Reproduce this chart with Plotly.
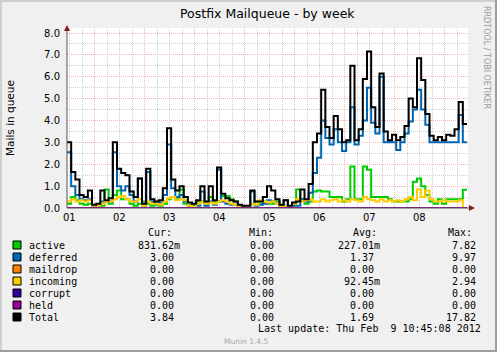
import plotly.graph_objects as go
from datetime import datetime, timedelta

# ---------------- data ----------------
start = datetime(2012, 2, 1, 10, 45)
step_hours = 2
day_labels = ["01", "02", "03", "04", "05", "06", "07", "08"]
day_noons = [datetime(2012, 2, d, 12, 0) for d in range(1, 9)]

active = [0.2, 0.5, 0.35, 0.2, 0.15, 0.2, 0.05, 0.05, 0.1, 0.85, 0.2, 0.6,
          0.8, 0.4, 0.4, 0.2, 0.1, 0.2, 0.3, 0.2, 0.1, 0.15, 0.1, 0.2,
          0.4, 0.5, 0.4, 0.85, 0.2, 0.15, 0.1, 0.3, 0.3, 0.2, 0.5, 0.3,
          0.3, 0.55, 0.55, 0.4, 0.3, 0.1, 0.05, 0.05, 0.2, 0.3, 0.2, 0.3,
          0.2, 0.2, 0.3, 0.1, 0.1, 0.05, 0.2, 0.85, 0.4, 0.2, 0.3, 0.75,
          0.8, 0.75, 0.75, 0.5, 0.5, 0.5, 0.3, 0.4, 1.9, 0.4, 0.4, 1.9,
          1.75, 0.5, 0.5, 0.5, 0.5, 0.4, 0.3, 0.3, 0.3, 0.3, 0.4, 1.2,
          1.35, 1.0, 0.6, 0.3, 0.2, 0.4, 0.2, 0.4, 0.4, 0.4, 0.4, 0.83]
deferred = [2.55, 1.0, 0.6, 0.4, 0.35, 0.4, 0.05, 0.05, 0.3, 0.3, 0.3, 2.55,
            1.0, 0.8, 1.0, 0.6, 0.3, 1.35, 0.1, 1.65, 0.3, 0.2, 0.25, 0.6,
            2.9, 0.9, 0.5, 0.6, 0.3, 0.1, 0.05, 0.1, 0.75, 0.1, 0.3, 0.15,
            1.75, 0.3, 0.2, 0.15, 0.15, 0.05, 0.05, 0.05, 0.75, 0.1, 0.15, 0.2,
            0.35, 0.3, 0.2, 0.05, 0.35, 0.05, 0.1, 0.1, 0.4, 0.3, 0.7, 1.6,
            2.3, 4.0, 3.2, 2.9, 3.6, 3.0, 2.6, 3.0, 4.6, 2.9, 3.3, 4.0,
            5.5, 3.9, 3.4, 6.0, 3.0, 3.0, 3.0, 2.65, 3.0, 3.4, 3.95, 4.5,
            5.4, 4.5, 3.8, 3.0, 3.0, 3.0, 3.0, 3.0, 3.0, 3.0, 4.25, 3.0]
maildrop = [0.0] * 96
incoming = [0.3, 0.4, 0.3, 0.35, 0.3, 0.35, 0.1, 0.1, 0.2, 0.3, 0.3, 0.4,
            0.5, 0.55, 0.4, 0.3, 0.3, 0.4, 0.1, 0.3, 0.2, 0.2, 0.15, 0.3,
            0.45, 0.5, 0.35, 0.4, 0.35, 0.1, 0.05, 0.2, 0.3, 0.2, 0.25, 0.2,
            0.3, 0.35, 0.3, 0.2, 0.15, 0.05, 0.0, 0.05, 0.2, 0.15, 0.35, 0.3,
            0.25, 0.3, 0.2, 0.05, 0.1, 0.05, 0.2, 0.4, 0.3, 0.35, 0.4, 0.3,
            0.3, 0.4, 0.3, 0.35, 0.4, 0.3, 0.35, 0.3, 0.4, 0.35, 0.3, 0.5,
            0.4, 0.35, 0.3, 0.4, 0.3, 0.35, 0.3, 0.35, 0.3, 0.4, 0.5, 0.35,
            0.85, 0.5, 0.8, 0.4, 0.3, 0.3, 0.35, 0.3, 0.3, 0.3, 0.35, 0.0]
corrupt = [0.0] * 96
held = [0.0] * 96
total = [3.0, 1.65, 1.3, 0.6, 0.5, 0.8, 0.15, 0.2, 0.8, 0.35, 0.45, 3.0,
         1.8, 1.6, 1.5, 0.75, 0.5, 1.35, 0.2, 1.8, 0.4, 0.3, 0.35, 0.9,
         3.65, 1.3, 0.8, 1.0, 0.5, 0.25, 0.2, 0.35, 1.0, 0.3, 1.0, 0.35,
         1.85, 0.65, 0.45, 0.35, 0.3, 0.15, 0.1, 0.1, 0.8, 0.3, 0.3, 0.5,
         1.0, 0.8, 0.4, 0.15, 0.35, 0.1, 0.25, 0.3, 0.85, 0.4, 1.1, 3.0,
         3.4, 5.4, 3.7, 3.2, 4.2, 3.6, 3.0, 3.1, 6.5, 3.1, 3.6, 5.9,
         7.15, 4.6, 3.7, 6.15, 3.5, 3.1, 3.35, 3.1, 3.25, 3.75, 5.0, 4.6,
         6.85, 5.85, 4.3, 3.3, 3.1, 3.25, 3.1, 3.35, 3.3, 3.6, 4.85, 3.84]

series_names = ["active", "deferred", "maildrop", "incoming", "corrupt", "held", "Total"]
series_values = [active, deferred, maildrop, incoming, corrupt, held, total]
series_colors = ["#00CC00", "#0066B3", "#FF8000", "#FFCC00", "#330099", "#990099", "#000000"]

cur_vals = ["831.62m", "3.00", "0.00", "0.00", "0.00", "0.00", "3.84"]
min_vals = ["0.00", "0.00", "0.00", "0.00", "0.00", "0.00", "0.00"]
avg_vals = ["227.01m", "1.37", "0.00", "92.45m", "0.00", "0.00", "1.69"]
max_vals = ["7.82", "9.97", "0.00", "2.94", "0.00", "0.00", "17.82"]
y_ticks = [0, 1, 2, 3, 4, 5, 6, 7, 8]

# ---------------- layout geometry ----------------
FW, FH = 497, 352
L, T, W, H = 67, 28, 401, 180
B = T + H
PX_PER_UNIT = 175 / 8.0


def px(x):
    return (x - L) / W


def py(y):
    return (B - y) / H


times = [start + timedelta(hours=step_hours * i) for i in range(len(active) + 1)]

fig = go.Figure()
for name, vals, col in zip(series_names, series_values, series_colors):
    fig.add_trace(go.Scatter(
        x=times, y=vals + [vals[-1]], mode="lines", name=name,
        line=dict(color=col, width=2, shape="hv"), cliponaxis=False,
        showlegend=False, hoverinfo="skip"))

annotations = []
shapes = []

# title and axis titles
annotations.append(dict(text="Postfix Mailqueue - by week", x=px(267), y=py(13), xref="paper", yref="paper",
                        showarrow=False, xanchor="center", yanchor="middle",
                        font=dict(family="DejaVu Sans", size=12.5, color="#000000")))
annotations.append(dict(text="Mails in queue", x=px(10), y=py(118), xref="paper", yref="paper",
                        showarrow=False, textangle=-90, xanchor="center", yanchor="middle",
                        font=dict(family="DejaVu Sans", size=10.5, color="#000000")))
annotations.append(dict(text="RRDTOOL / TOBI OETIKER", x=px(487), y=py(57), xref="paper", yref="paper",
                        showarrow=False, textangle=90, xanchor="center", yanchor="middle",
                        font=dict(family="DejaVu Sans", size=8, color="#9a9a9a")))

# day labels
for t, lab in zip(day_noons, day_labels):
    annotations.append(dict(text=lab, x=t, y=py(217), xref="x", yref="paper", showarrow=False,
                            xanchor="center", yanchor="middle",
                            font=dict(family="DejaVu Sans", size=10, color="#000000")))

# legend table
mono = dict(family="DejaVu Sans Mono", size=10, color="#000000")
CH = 6.02
row_y0, row_dy = 245, 12
headers = [("Cur:", 146), ("Min:", 247), ("Avg:", 351), ("Max:", 446)]
for txt, x in headers:
    annotations.append(dict(text=txt, x=px(x), y=py(232), xref="paper", yref="paper", showarrow=False,
                            xanchor="left", yanchor="middle", font=mono))
col_right = [182, 282, 382, 484]
for i, name in enumerate(series_names):
    yc = row_y0 + row_dy * i
    shapes.append(dict(type="rect", xref="paper", yref="paper", x0=px(13), x1=px(21),
                       y0=py(yc - 4), y1=py(yc + 4), fillcolor=series_colors[i],
                       line=dict(color="#000000", width=1)))
    annotations.append(dict(text=name, x=px(27), y=py(yc), xref="paper", yref="paper", showarrow=False,
                            xanchor="left", yanchor="middle", font=mono))
    for colvals, r in zip([cur_vals, min_vals, avg_vals, max_vals], col_right):
        v = colvals[i]
        right = r if v.endswith("m") else r - CH
        annotations.append(dict(text=v, x=px(right), y=py(yc), xref="paper", yref="paper", showarrow=False,
                                xanchor="right", yanchor="middle", font=mono))

annotations.append(dict(text="Last update: Thu Feb\u00a0 9 10:45:08 2012", x=px(483), y=py(328),
                        xref="paper", yref="paper", showarrow=False, xanchor="right", yanchor="middle", font=mono))
annotations.append(dict(text="Munin 1.4.5", x=px(246), y=py(341), xref="paper", yref="paper", showarrow=False,
                        xanchor="center", yanchor="middle",
                        font=dict(family="DejaVu Sans", size=7.5, color="#aaaaaa")))

# axes lines and arrows
shapes.append(dict(type="line", xref="paper", yref="paper", x0=px(67), x1=px(67), y0=py(208), y1=py(30),
                   line=dict(color="#555555", width=1)))
shapes.append(dict(type="line", xref="paper", yref="paper", x0=px(67), x1=px(470), y0=py(208), y1=py(208),
                   line=dict(color="#555555", width=1)))
shapes.append(dict(type="path", xref="paper", yref="paper",
                   path=f"M {px(64)} {py(31)} L {px(70)} {py(31)} L {px(67)} {py(25)} Z",
                   fillcolor="#8B1A1A", line=dict(color="#8B1A1A", width=0)))
shapes.append(dict(type="path", xref="paper", yref="paper",
                   path=f"M {px(469)} {py(205)} L {px(469)} {py(211)} L {px(475)} {py(208)} Z",
                   fillcolor="#8B1A1A", line=dict(color="#8B1A1A", width=0)))

# image frame
shapes.append(dict(type="line", xref="paper", yref="paper", x0=px(0), x1=px(FW), y0=py(1), y1=py(1),
                   line=dict(color="#CFCFCF", width=2)))
shapes.append(dict(type="line", xref="paper", yref="paper", x0=px(1), x1=px(1), y0=py(0), y1=py(FH),
                   line=dict(color="#CFCFCF", width=2)))
shapes.append(dict(type="line", xref="paper", yref="paper", x0=px(0), x1=px(FW), y0=py(FH - 1), y1=py(FH - 1),
                   line=dict(color="#9E9E9E", width=2)))
shapes.append(dict(type="line", xref="paper", yref="paper", x0=px(FW - 1), x1=px(FW - 1), y0=py(0), y1=py(FH),
                   line=dict(color="#9E9E9E", width=2)))

grid_red = "#F2B6B6"
grid_gray = "#CDCDCD"

fig.update_layout(
    width=FW, height=FH,
    margin=dict(l=L, r=FW - L - W, t=T, b=FH - B, pad=0),
    paper_bgcolor="#F0F0F0", plot_bgcolor="#FFFFFF",
    showlegend=False,
    xaxis=dict(type="date", range=[start, start + timedelta(days=W / 50.0)],
               showticklabels=False, ticks="", showline=False, zeroline=False,
               tick0="2012-02-02 00:00:00", dtick=86400000,
               showgrid=True, gridcolor=grid_red, griddash="1px,1px", gridwidth=1,
               minor=dict(tick0="2012-02-01 00:00:00", dtick=21600000, showgrid=True,
                          gridcolor=grid_gray, griddash="1px,1px", gridwidth=1),
               fixedrange=True),
    yaxis=dict(range=[0, H / PX_PER_UNIT], tickmode="array", tickvals=y_ticks,
               ticktext=[f"{v:.1f}" for v in y_ticks], ticks="outside", ticklen=4,
               tickcolor="rgba(0,0,0,0)", tickfont=dict(family="DejaVu Sans", size=10, color="#000000"),
               showline=False, zeroline=False,
               showgrid=True, gridcolor=grid_red, griddash="1px,1px", gridwidth=1,
               minor=dict(dtick=0.5, showgrid=True, gridcolor=grid_gray, griddash="1px,1px", gridwidth=1),
               fixedrange=True),
    annotations=annotations,
    shapes=shapes,
)

fig.write_html("out.html")
